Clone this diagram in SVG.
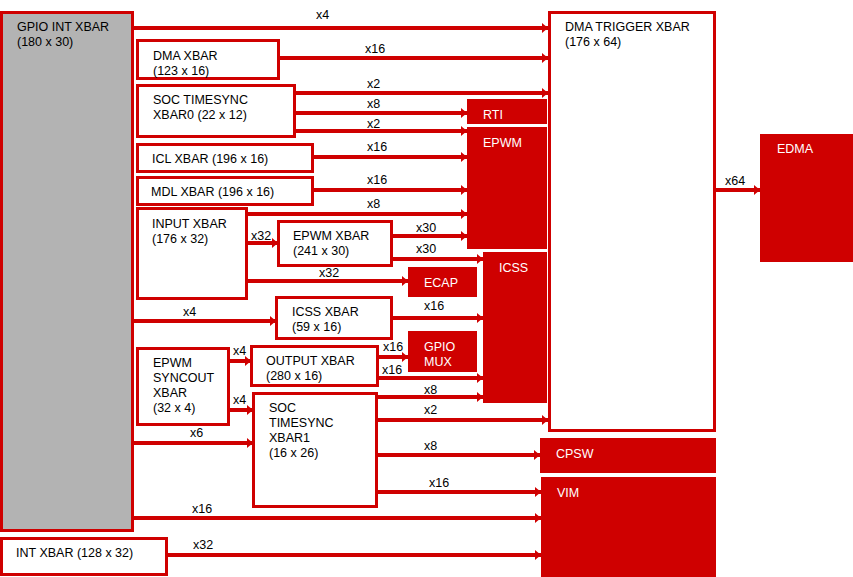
<svg xmlns="http://www.w3.org/2000/svg" width="853" height="577" viewBox="0 0 853 577">
  <style>
    text { font-family: "Liberation Sans", Arial, sans-serif; font-size: 12.5px; fill: #000; }
    .blk { fill: #fff; stroke: #CF0000; stroke-width: 3; }
    .gray { fill: #B3B3B3; stroke: #CF0000; stroke-width: 3; }
    .red { fill: #CF0000; }
    .wt { fill: #fff; }
    .wire { stroke: #CF0000; stroke-width: 4; fill: none; marker-end: url(#ah); }
  </style>
  <defs>
    <marker id="ah" markerUnits="userSpaceOnUse" markerWidth="8" markerHeight="11" refX="6" refY="5" orient="auto">
      <path d="M0,0 L6,5 L0,10 z" fill="#CF0000"/>
    </marker>
  </defs>
  <rect width="853" height="577" fill="#fff"/>

  <!-- sources -->
  <g id="gpio-int-xbar">
    <rect class="gray" x="1.5" y="12.5" width="131" height="518"/>
    <text x="17" y="31">GPIO INT XBAR</text>
    <text x="17" y="46">(180 x 30)</text>
  </g>
  <g id="dma-xbar">
    <rect class="blk" x="137.5" y="40.5" width="141" height="38"/>
    <text x="153" y="60">DMA XBAR</text>
    <text x="153" y="75">(123 x 16)</text>
  </g>
  <g id="soc-timesync-xbar0">
    <rect class="blk" x="137.5" y="85.5" width="157" height="51"/>
    <text x="153" y="104">SOC TIMESYNC</text>
    <text x="153" y="119">XBAR0 (22 x 12)</text>
  </g>
  <g id="icl-xbar">
    <rect class="blk" x="137.5" y="144.5" width="175" height="27"/>
    <text x="152" y="163">ICL XBAR (196 x 16)</text>
  </g>
  <g id="mdl-xbar">
    <rect class="blk" x="137.5" y="177.5" width="175" height="27"/>
    <text x="151" y="196">MDL XBAR (196 x 16)</text>
  </g>
  <g id="input-xbar">
    <rect class="blk" x="137.5" y="208.5" width="109" height="90"/>
    <text x="152" y="228">INPUT XBAR</text>
    <text x="152" y="243">(176 x 32)</text>
  </g>
  <g id="epwm-xbar">
    <rect class="blk" x="278.5" y="221.5" width="113" height="44"/>
    <text x="293" y="240">EPWM XBAR</text>
    <text x="293" y="255">(241 x 30)</text>
  </g>
  <g id="icss-xbar">
    <rect class="blk" x="276.5" y="297.5" width="115" height="41"/>
    <text x="292" y="316">ICSS XBAR</text>
    <text x="292" y="331">(59 x 16)</text>
  </g>
  <g id="epwm-syncout-xbar">
    <rect class="blk" x="137.5" y="348.5" width="91" height="76"/>
    <text x="153" y="367">EPWM</text>
    <text x="153" y="382">SYNCOUT</text>
    <text x="153" y="397">XBAR</text>
    <text x="153" y="412">(32 x 4)</text>
  </g>
  <g id="output-xbar">
    <rect class="blk" x="251.5" y="346.5" width="126" height="39"/>
    <text x="266" y="365">OUTPUT XBAR</text>
    <text x="266" y="380">(280 x 16)</text>
  </g>
  <g id="soc-timesync-xbar1">
    <rect class="blk" x="253.5" y="393.5" width="123" height="113"/>
    <text x="269" y="412">SOC</text>
    <text x="269" y="427">TIMESYNC</text>
    <text x="269" y="442">XBAR1</text>
    <text x="269" y="457">(16 x 26)</text>
  </g>
  <g id="int-xbar">
    <rect class="blk" x="1.5" y="538.5" width="165" height="36"/>
    <text x="16" y="557">INT XBAR (128 x 32)</text>
  </g>

  <!-- destinations -->
  <g id="dma-trigger-xbar">
    <rect class="blk" x="549.5" y="12.5" width="165" height="418"/>
    <text x="565" y="31">DMA TRIGGER XBAR</text>
    <text x="565" y="46">(176 x 64)</text>
  </g>
  <g id="edma">
    <rect class="red" x="760" y="134" width="93" height="128"/>
    <text class="wt" x="777" y="153">EDMA</text>
  </g>
  <g id="rti">
    <rect class="red" x="467" y="99" width="80" height="25"/>
    <text class="wt" x="483" y="119">RTI</text>
  </g>
  <g id="epwm">
    <rect class="red" x="467" y="127" width="80" height="122"/>
    <text class="wt" x="483" y="147">EPWM</text>
  </g>
  <g id="icss">
    <rect class="red" x="483" y="252" width="64" height="151"/>
    <text class="wt" x="499" y="272">ICSS</text>
  </g>
  <g id="ecap">
    <rect class="red" x="408" y="267" width="69" height="30"/>
    <text class="wt" x="424" y="287">ECAP</text>
  </g>
  <g id="gpio-mux">
    <rect class="red" x="408" y="331" width="69" height="41"/>
    <text class="wt" x="424" y="351">GPIO</text>
    <text class="wt" x="424" y="366">MUX</text>
  </g>
  <g id="cpsw">
    <rect class="red" x="540" y="438" width="176" height="35"/>
    <text class="wt" x="556" y="458">CPSW</text>
  </g>
  <g id="vim">
    <rect class="red" x="541" y="477" width="175" height="100"/>
    <text class="wt" x="557" y="497">VIM</text>
  </g>

  <!-- connectors -->
  <g id="connectors">
    <line class="wire" x1="133" y1="28" x2="548" y2="28"/>
    <line class="wire" x1="279" y1="58" x2="548" y2="58"/>
    <line class="wire" x1="295" y1="93" x2="548" y2="93"/>
    <line class="wire" x1="295" y1="113" x2="467" y2="113"/>
    <line class="wire" x1="295" y1="131" x2="467" y2="131"/>
    <line class="wire" x1="313" y1="157" x2="467" y2="157"/>
    <line class="wire" x1="313" y1="190" x2="467" y2="190"/>
    <line class="wire" x1="247" y1="214" x2="467" y2="214"/>
    <line class="wire" x1="247" y1="243" x2="278" y2="243"/>
    <line class="wire" x1="392" y1="236" x2="467" y2="236"/>
    <line class="wire" x1="392" y1="259" x2="483" y2="259"/>
    <line class="wire" x1="247" y1="281" x2="408" y2="281"/>
    <line class="wire" x1="133" y1="321" x2="276" y2="321"/>
    <line class="wire" x1="392" y1="318" x2="483" y2="318"/>
    <line class="wire" x1="229" y1="361" x2="251" y2="361"/>
    <line class="wire" x1="378" y1="357" x2="408" y2="357"/>
    <line class="wire" x1="378" y1="378" x2="483" y2="378"/>
    <line class="wire" x1="377" y1="397" x2="483" y2="397"/>
    <line class="wire" x1="229" y1="410" x2="253" y2="410"/>
    <line class="wire" x1="377" y1="420" x2="548" y2="420"/>
    <line class="wire" x1="133" y1="443" x2="253" y2="443"/>
    <line class="wire" x1="377" y1="455" x2="540" y2="455"/>
    <line class="wire" x1="377" y1="492" x2="541" y2="492"/>
    <line class="wire" x1="133" y1="518" x2="541" y2="518"/>
    <line class="wire" x1="167" y1="555" x2="541" y2="555"/>
    <line class="wire" x1="715" y1="190" x2="760" y2="190"/>

    <text x="316" y="19">x4</text>
    <text x="365" y="53">x16</text>
    <text x="367" y="88">x2</text>
    <text x="367" y="108">x8</text>
    <text x="367" y="128">x2</text>
    <text x="367" y="151">x16</text>
    <text x="367" y="184">x16</text>
    <text x="367" y="208">x8</text>
    <text x="251" y="240">x32</text>
    <text x="416" y="232">x30</text>
    <text x="416" y="253">x30</text>
    <text x="319" y="277">x32</text>
    <text x="183" y="316">x4</text>
    <text x="424" y="310">x16</text>
    <text x="233" y="355">x4</text>
    <text x="383" y="351">x16</text>
    <text x="382" y="374">x16</text>
    <text x="424" y="394">x8</text>
    <text x="233" y="404">x4</text>
    <text x="424" y="414">x2</text>
    <text x="190" y="437">x6</text>
    <text x="424" y="450">x8</text>
    <text x="429" y="487">x16</text>
    <text x="192" y="513">x16</text>
    <text x="193" y="549">x32</text>
    <text x="725" y="185">x64</text>
  </g>
</svg>
